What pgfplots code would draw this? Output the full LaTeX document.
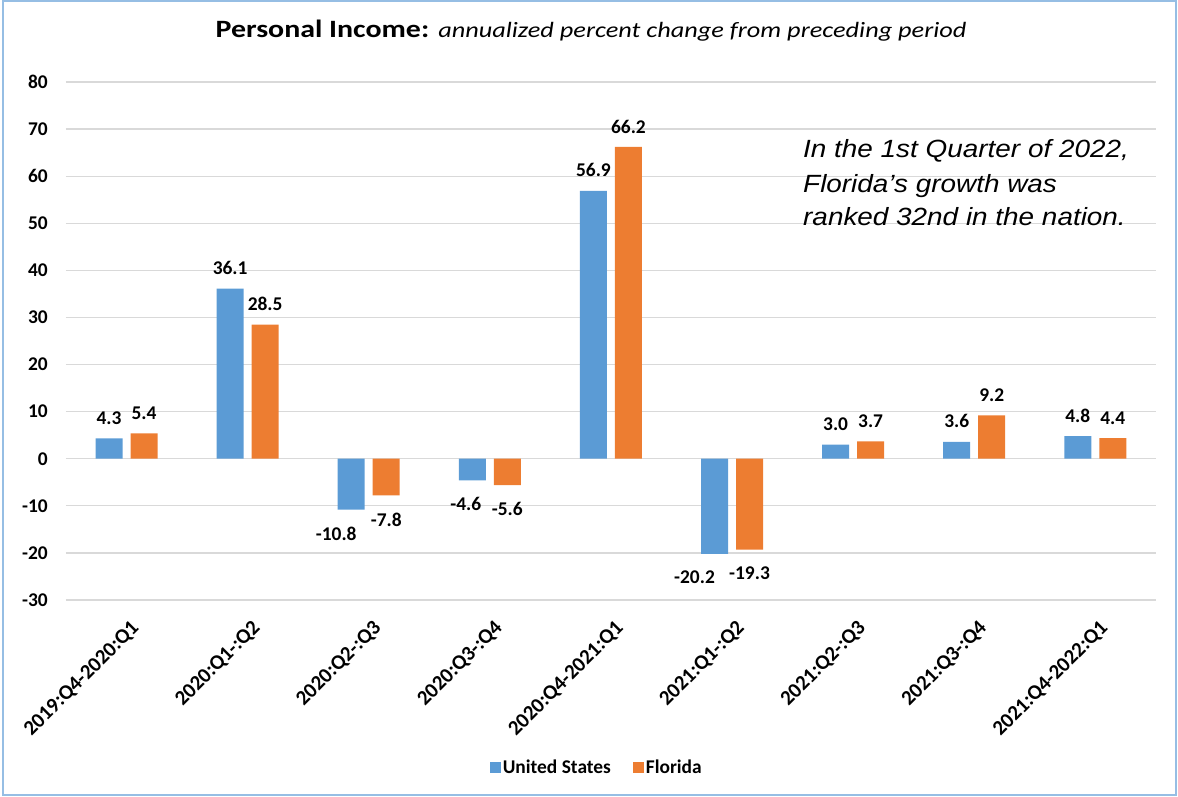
\documentclass[border=0pt]{standalone}
\usepackage{graphicx}
\usepackage{pgfplots}
\pgfplotsset{compat=1.18}
\usepackage{pgfplotstable}
\usepackage{fontspec}
\setmainfont{Carlito}
\newfontfamily\arialfont{Liberation Sans}

\definecolor{usblue}{RGB}{91,155,213}
\definecolor{florange}{RGB}{237,125,49}
\definecolor{gridgray}{RGB}{217,217,217}
\definecolor{frameblue}{RGB}{150,190,228}

% x, value, label x shift, label y shift (bp)
\pgfplotstableread{
x  v     dx    dy
0  4.3   0     13.5
1  36.1  0     13.5
2  -10.8 -15   -17
3  -4.6  -6.5  -17
4  56.9  0     13.5
5  -20.2 -20   -17
6  3.0   0     13.5
7  3.6   0     13.5
8  4.8   0     13.5
}\usdata
\pgfplotstableread{
x  v     dx    dy
0  5.4   0     13.5
1  28.5  0     13.5
2  -7.8  0     -17
3  -5.6  0     -17
4  66.2  0     13.5
5  -19.3 0     -17
6  3.7   0     13.5
7  9.2   0     13.5
8  4.4   0     13.5
}\fldata

\begin{document}
\begin{tikzpicture}
\useasboundingbox (-66bp,-197bp) rectangle (1112bp,600bp);
\draw[frameblue, line width=1.5bp] (-63bp,-195bp) rectangle (1110bp,599bp);
\begin{axis}[
  scale only axis,
  width=1090bp, height=518bp,
  ybar=8bp, bar width=27bp,
  xmin=-0.5, xmax=8.5,
  ymin=-30, ymax=80,
  ytick={-30,-20,...,80},
  xtick=data,
  xticklabels={2019:Q4-2020:Q1,2020:Q1-:Q2,2020:Q2-:Q3,2020:Q3-:Q4,2020:Q4-2021:Q1,2021:Q1-:Q2,2021:Q2-:Q3,2021:Q3-:Q4,2021:Q4-2022:Q1},
  axis line style={draw=none},
  major tick length=0pt,
  ymajorgrids, grid style={gridgray, line width=1.2bp},
  /pgf/number format/assume math mode=true,
  tick label style={font=\fontsize{19.5}{22}\selectfont\bfseries},
  yticklabel style={inner sep=0pt, xshift=-18bp},
  xticklabel style={font=\fontsize{21}{24}\selectfont\bfseries,
    rotate=45, anchor=north east, inner sep=0pt, xshift=-10.9bp, yshift=-15.8bp},
  clip=false,
  nodes near coords,
  nodes near coords align=vertical,
  visualization depends on={\thisrow{dx} \as \ldx},
  visualization depends on={\thisrow{dy} \as \ldy},
  every node near coord/.append style={
    font=\fontsize{19.5}{22}\selectfont\bfseries, text=black,
    inner sep=0pt, xshift=\ldx bp, yshift=\ldy bp,
    /pgf/number format/.cd, fixed, fixed zerofill, precision=1, assume math mode=true},
  legend style={at={(0.487,-0.3224)}, anchor=center, draw=none,
    font=\fontsize{19.5}{22}\selectfont\bfseries,
    /tikz/every even column/.append style={column sep=20bp}},
  legend columns=2,
  legend image code/.code={\fill[#1] (0bp,-5.5bp) rectangle (11bp,5.5bp);},
]
\addplot[fill=usblue, draw=none] table[x=x, y=v] {\usdata};
\addplot[fill=florange, draw=none] table[x=x, y=v] {\fldata};
\legend{United States, Florida}
\end{axis}
\node[anchor=base] at (525bp,562bp) {\scalebox{1.2}[1]{\fontsize{25}{28}\selectfont\bfseries Personal Income: \mdseries\itshape\fontsize{22}{26}\selectfont annualized percent change from preceding period}};
\begin{scope}[every node/.style={anchor=base west, inner sep=0pt, font=\arialfont\itshape\fontsize{25}{30}\selectfont}]
\node at (737bp,442bp) {\scalebox{1.12}[1]{In the 1st Quarter of 2022,}};
\node at (737bp,407bp) {\scalebox{1.12}[1]{Florida’s growth was}};
\node at (737bp,374bp) {\scalebox{1.12}[1]{ranked 32nd in the nation.}};
\end{scope}
\end{tikzpicture}
\end{document}
